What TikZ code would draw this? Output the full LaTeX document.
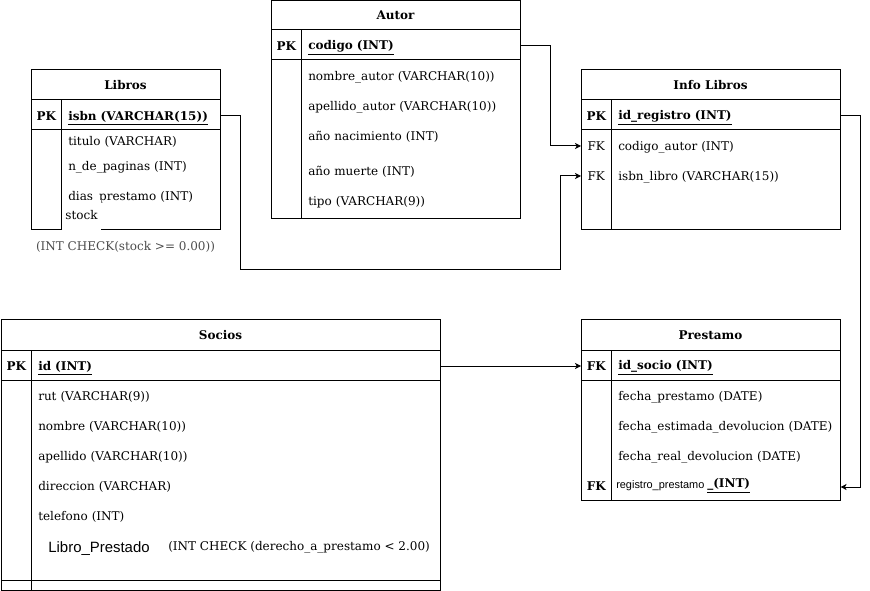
\documentclass[tikz,border=0pt]{standalone}
\usepackage{fontspec}
\setmainfont{DejaVu Serif}
\setsansfont{Liberation Sans}
\usetikzlibrary{arrows.meta}
\newcommand\pxu{0.75pt}
\newcommand\dfont{\fontsize{9}{11}\selectfont}
\tikzset{
  tbl/.style={draw, line width=0.75pt},
  tbltitle/.style={font=\dfont\bfseries, inner sep=0pt},
  keycell/.style={anchor=west, minimum width=30*\pxu, inner sep=0pt, font=\dfont,
                  yshift=-0.75pt},
  pkcell/.style={keycell, font=\dfont\bfseries},
  field/.style={anchor=west, inner xsep=7*\pxu, inner ysep=0pt, yshift=-1.5pt,
                text width=#1*\pxu, align=left, font=\dfont},
  pkfield/.style={field=#1, font=\dfont\bfseries, yshift=-0.75pt},
  link/.style={line width=0.75pt},
  fklink/.style={link, -{Stealth[length=4.5pt,width=4.5pt,inset=1.2pt]}},
}

\begin{document}
\begin{tikzpicture}[x=0.75pt, y=-0.75pt]
  \useasboundingbox (0,0) rectangle (870,591);

  % Autor
  \draw[tbl] (271,1) rectangle (520,219);
  \draw[tbl] (271,30) -- (520,30) (271,60) -- (520,60) (301,30) -- (301,219);
  \node[tbltitle] (autor) at (395.5,15) {Autor};
  \node[pkcell] (autorpk) at (271,45) {PK};
  \node[pkfield=205] (codigo) at (301,45) {\underline{codigo (INT)}};
  \node[field=205] (nombreautor) at (301,75) {nombre\_autor (VARCHAR(10))};
  \node[field=205] (apellidoautor) at (301,105) {apellido\_autor (VARCHAR(10))};
  \node[field=205] (nacimiento) at (301,135) {año nacimiento (INT)};
  \node[field=205] (muerte) at (301,170) {año muerte (INT)};
  \node[field=205] (tipo) at (301,200) {tipo (VARCHAR(9))};

  % Libros
  \draw[tbl] (31,70) rectangle (220,230);
  \draw[tbl] (31,100) -- (220,100) (31,130) -- (220,130) (61,100) -- (61,230);
  \node[tbltitle] (libros) at (125.5,85) {Libros};
  \node[pkcell] (librospk) at (31,115) {PK};
  \node[pkfield=145] (isbn) at (61,115) {\underline{isbn (VARCHAR(15))}};
  \node[field=145] (titulo) at (61,140) {titulo (VARCHAR)};
  \node[field=145] (npaginas) at (61,165) {n\_de\_paginas (INT)};
  \node[field=145] (dias) at (61,195) {dias\_prestamo (INT)};
  \node[fill=white, minimum width=39*\pxu, minimum height=30*\pxu,
        inner sep=0pt, font=\dfont] (stock) at (81.5,215) {stock};
  \node[font=\dfont, text=black!70, inner sep=0pt] (stockcheck) at (125.5,246.5)
    {(INT CHECK(stock >= 0.00))};

  % Info Libros
  \draw[tbl] (581,70) rectangle (840,230);
  \draw[tbl] (581,100) -- (840,100) (581,130) -- (840,130) (611,100) -- (611,230);
  \node[tbltitle] (infolibros) at (710.5,85) {Info Libros};
  \node[pkcell] (infopk) at (581,115) {PK};
  \node[pkfield=215] (idregistro) at (611,115) {\underline{id\_registro (INT)}};
  \node[keycell] (infofka) at (581,145) {FK};
  \node[field=215] (codigoautor) at (611,145) {codigo\_autor (INT)};
  \node[keycell] (infofkb) at (581,175) {FK};
  \node[field=215] (isbnlibro) at (611,175) {isbn\_libro (VARCHAR(15))};

  % Socios
  \draw[tbl] (1,320) rectangle (440,590);
  \draw[tbl] (1,350) -- (440,350) (1,380) -- (440,380) (1,580) -- (440,580)
             (31,350) -- (31,590);
  \node[tbltitle] (socios) at (220.5,335) {Socios};
  \node[pkcell] (sociospk) at (1,365) {PK};
  \node[pkfield=395] (idsocio) at (31,365) {\underline{id (INT)}};
  \node[field=395] (rut) at (31,395) {rut (VARCHAR(9))};
  \node[field=395] (nombre) at (31,425) {nombre (VARCHAR(10))};
  \node[field=395] (apellido) at (31,455) {apellido (VARCHAR(10))};
  \node[field=395] (direccion) at (31,485) {direccion (VARCHAR)};
  \node[field=395] (telefono) at (31,515) {telefono (INT)};
  \node[font=\sffamily\fontsize{11.2}{13}\selectfont, inner sep=0pt]
    (libroprestado) at (99,549) {Libro\_Prestado};
  \node[anchor=west, font=\dfont, inner sep=0pt, yshift=-1.5pt] (derechocheck) at (168,545)
    {(INT CHECK (derecho\_a\_prestamo < 2.00)};

  % Prestamo
  \draw[tbl] (581,320) rectangle (840,500);
  \draw[tbl] (581,350) -- (840,350) (581,380) -- (840,380) (611,350) -- (611,500);
  \node[tbltitle] (prestamo) at (710.5,335) {Prestamo};
  \node[pkcell] (prestamofka) at (581,365) {FK};
  \node[pkfield=215] (idsocioref) at (611,365) {\underline{id\_socio (INT)}};
  \node[field=215] (fprestamo) at (611,395) {fecha\_prestamo (DATE)};
  \node[field=215] (festimada) at (611,425) {fecha\_estimada\_devolucion (DATE)};
  \node[field=215] (freal) at (611,455) {fecha\_real\_devolucion (DATE)};
  \node[pkcell] (prestamofkb) at (581,485) {FK};
  \node[field=215] (registro) at (611,485)
    {\hspace*{-1.5pt}\raisebox{3pt}{\sffamily\fontsize{8.2}{9}\selectfont registro\_prestamo}};
  \node[anchor=west, inner sep=0pt, font=\dfont\bfseries] (registrotipo) at (707,486)
    {\underline{\_(INT)}};

  % relaciones
  \draw[fklink] (codigo.east |- autorpk.east) -- ++(30,0) |- (infofka.west);
  \draw[fklink] (isbn.east |- librospk.east) -- ++(20,0) -- ++(0,154)
    -| ([xshift=-21*\pxu]infofkb.west) -- (infofkb.west);
  \draw[fklink] (idregistro.east |- infopk.east) -- ++(20,0) |- (registro.east);
  \draw[fklink] (idsocio.east |- sociospk.east) -- (prestamofka.west);
\end{tikzpicture}
\end{document}
